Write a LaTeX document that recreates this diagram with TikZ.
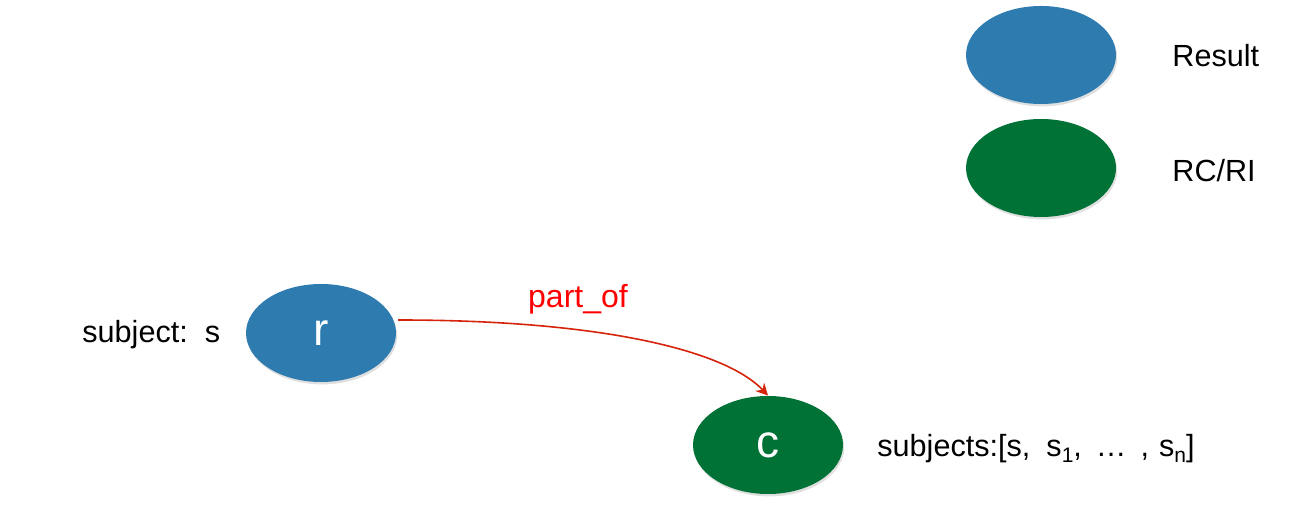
\documentclass[tikz,border=0pt]{standalone}
\usepackage{fontspec}
\setmainfont{Liberation Sans}
\usetikzlibrary{shadows,arrows.meta,shapes.geometric}
\definecolor{resblue}{RGB}{46,123,176}
\definecolor{rcgreen}{RGB}{0,114,54}
\definecolor{arrowred}{RGB}{214,36,12}
\tikzset{
  blob/.style={ellipse, minimum width=75pt, minimum height=49pt, inner sep=0pt,
    draw=none, drop shadow={shadow xshift=0.6pt, shadow yshift=-1.2pt, opacity=0.25}},
  resnode/.style={blob, fill=resblue},
  rcnode/.style={blob, fill=rcgreen},
  bigletter/.style={text=white, font=\fontsize{23}{23}\selectfont},
  lbl/.style={anchor=base west, inner sep=0pt, font=\fontsize{15.3}{18}\selectfont},
  edgelbl/.style={anchor=base, inner sep=0pt, text=red, font=\fontsize{16}{18}\selectfont},
  rel/.style={draw=arrowred, line width=0.8pt, -{Stealth[length=6pt,width=6pt]}}
}
\newcommand{\subsc}[1]{\raisebox{-2.6pt}{\fontsize{10.5}{10.5}\selectfont #1}}
\begin{document}
\begin{tikzpicture}[x=0.5pt,y=-0.5pt]
\useasboundingbox (0,0) rectangle (1293,506);
% legend
\node[resnode] (legres) at (1041,55) {};
\node[rcnode] (legrc) at (1041,168) {};
\node[lbl] (legrestxt) at (1172,67) {Result};
\node[lbl] (legrctxt) at (1172,182) {RC/RI};
% main nodes
\node[resnode, bigletter] (r) at (321,333) {r};
\node[rcnode, bigletter] (c) at (768,445) {c};
\node[lbl] (subj) at (82,343) {subject:\ \ s};
\node[lbl] (subjs) at (877,457) {subjects:[s,\hspace{8pt}s\subsc{1},\hspace{7pt}…\hspace{7pt},\hspace{5pt}s\subsc{n}]};
% relation
\coordinate (start) at (398,320);
\draw[rel] (start) .. controls (600,320) and (725,350) .. (c.north);
\node[edgelbl] (partof) at (578,308) {part\_of};
\end{tikzpicture}
\end{document}
